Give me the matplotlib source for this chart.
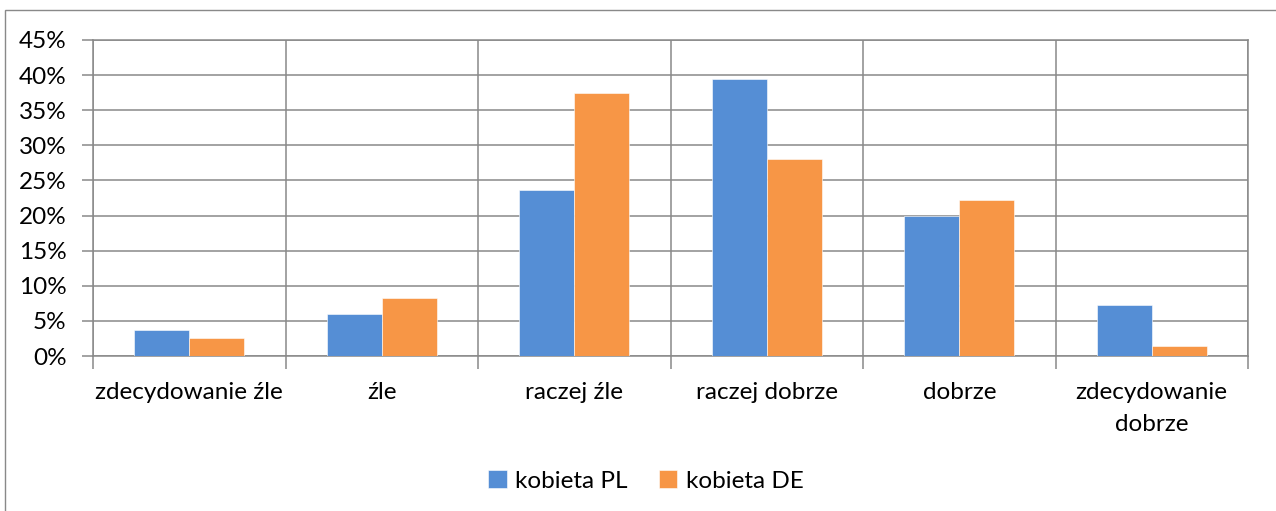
import matplotlib
matplotlib.use("Agg")
import matplotlib.pyplot as plt
from matplotlib.patches import Rectangle
import numpy as np

categories = ["zdecydowanie źle", "źle", "raczej źle", "raczej dobrze", "dobrze",
              "zdecydowanie\ndobrze"]
kobieta_pl = [3.7, 6.0, 23.6, 39.5, 20.0, 7.2]
kobieta_de = [2.5, 8.2, 37.5, 28.0, 22.2, 1.4]
series_names = ["kobieta PL", "kobieta DE"]
y_ticks = [0, 5, 10, 15, 20, 25, 30, 35, 40, 45]

plt.rcParams["font.family"] = ["Lato", "DejaVu Sans"]

W, H = 1276, 511
fig = plt.figure(figsize=(W / 100, H / 100), dpi=100)
grid_c = "#898989"
fs = 17.5

# outer chart frame
fig.patches.append(Rectangle((5 / W, -0.1), 1.2, (H - 10) / H + 0.1,
                             transform=fig.transFigure, fill=False,
                             edgecolor=grid_c, linewidth=1.0))

ax = fig.add_axes([93 / W, (H - 356) / H, (1248 - 93) / W, (356 - 40) / H])

x = np.arange(len(categories))
bw = 0.286
ax.bar(x - bw / 2, kobieta_pl, bw, color="#558ED5", edgecolor="white",
       linewidth=0.4, label=series_names[0], zorder=3)
ax.bar(x + bw / 2, kobieta_de, bw, color="#F79646", edgecolor="white",
       linewidth=0.4, label=series_names[1], zorder=3)

ax.set_xlim(-0.5, len(categories) - 0.5)
ax.set_ylim(0, 45)
ax.set_yticks(y_ticks)
ax.set_yticklabels([f"{v}%" for v in y_ticks])

# category boundaries as major ticks (with grid), labels at centres
ax.set_xticks(np.arange(-0.5, len(categories), 1.0))
ax.set_xticklabels([])
ax.set_xticks(x, minor=True)
ax.set_xticklabels(categories, minor=True, linespacing=1.6)
ax.tick_params(axis="x", which="minor", length=0, pad=19, labelsize=fs)
ax.tick_params(axis="x", which="major", length=9, width=1.1, color=grid_c)
ax.tick_params(axis="y", length=8, width=1.1, color=grid_c, pad=11, labelsize=fs)

ax.grid(True, which="major", color=grid_c, linewidth=1.1, zorder=0)
ax.set_axisbelow(True)
for s in ax.spines.values():
    s.set_color(grid_c)
    s.set_linewidth(1.1)

leg = fig.legend(loc="center", bbox_to_anchor=(646 / W, 1 - 481 / H), ncol=2,
                 frameon=False, fontsize=fs, handlelength=0.75, handleheight=0.75,
                 handletextpad=0.35, columnspacing=1.3)

fig.savefig("out.png", dpi=100)
